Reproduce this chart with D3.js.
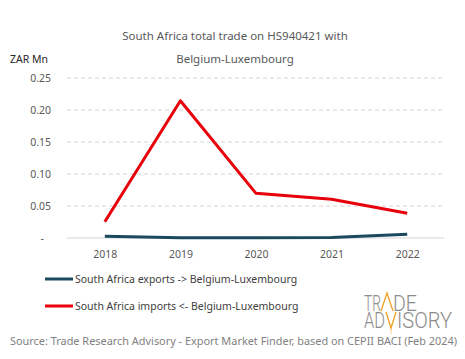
<!DOCTYPE html>
<html><head><meta charset="utf-8">
<script src="https://cdn.jsdelivr.net/npm/d3@7"></script>
<style>body{margin:0;background:#fff}svg{display:block}</style>
</head><body><div id="c"></div>
<script>
const years = ["2018","2019","2020","2021","2022"];
const exportsVals = [0.0027, 0.0002, 0.0002, 0.0008, 0.0058];
const importsVals = [0.0255, 0.2145, 0.0698, 0.0605, 0.0386];
const yTicks = [0, 0.05, 0.10, 0.15, 0.20, 0.25];
const seriesNames = ["South Africa exports -> Belgium-Luxembourg", "South Africa imports <- Belgium-Luxembourg"];
const seriesColors = ["#1b4a5e", "#e8000b"];

const W = 465, H = 359;
const svg = d3.select("#c").append("svg").attr("width", W).attr("height", H);
const font = "'Noto Sans', sans-serif";

const x = d3.scalePoint().domain(years).range([67, 445]).padding(0.5);
const y = d3.scaleLinear().domain([0, 0.25]).range([238, 78]);

// grid
svg.append("g").selectAll("line").data(yTicks.filter(d => d > 0)).join("line")
  .attr("x1", 67).attr("x2", 444).attr("y1", d => y(d)).attr("y2", d => y(d))
  .attr("stroke", "#d4d4d4").attr("stroke-dasharray", "4,3").attr("stroke-width", 1);
svg.append("line").attr("x1", 67).attr("x2", 444).attr("y1", y(0)).attr("y2", y(0))
  .attr("stroke", "#d4d4d4").attr("stroke-width", 1);

// y axis
const yAxis = d3.axisLeft(y).tickValues(yTicks).tickSize(0).tickPadding(0)
  .tickFormat(d => d === 0 ? "-" : d3.format(".2f")(d));
const gy = svg.append("g").attr("transform", "translate(51,0)").call(yAxis);
gy.select(".domain").remove();
gy.selectAll("text").attr("fill", "#595959").style("font-family", font).style("font-size", "10.5px");
gy.selectAll(".tick").filter(d => d === 0).select("text").attr("dx", "-7");

// x axis
const xAxis = d3.axisBottom(x).tickSize(0).tickPadding(0);
const gx = svg.append("g").attr("transform", "translate(0,251)").call(xAxis);
gx.select(".domain").remove();
gx.selectAll("text").attr("fill", "#595959").style("font-family", font).style("font-size", "10.5px");

// lines
const line = d3.line().x((d, i) => x(years[i])).y(d => y(d));
[exportsVals, importsVals].forEach((vals, k) => {
  svg.append("path").datum(vals).attr("d", line).attr("fill", "none")
    .attr("stroke", seriesColors[k]).attr("stroke-width", 3).attr("stroke-linejoin", "round");
});

// title
svg.append("text").attr("x", 235).attr("y", 40).attr("text-anchor", "middle")
  .style("font-family", font).style("font-size", "11.5px").attr("fill", "#595959")
  .text("South Africa total trade on HS940421 with");
svg.append("text").attr("x", 235).attr("y", 63).attr("text-anchor", "middle")
  .style("font-family", font).style("font-size", "11.5px").attr("fill", "#595959")
  .text("Belgium-Luxembourg");
svg.append("text").attr("x", 10).attr("y", 63)
  .style("font-family", font).style("font-size", "10.5px").attr("fill", "#262626")
  .text("ZAR Mn");

// legend
const legY = [279, 306];
seriesNames.forEach((n, k) => {
  svg.append("line").attr("x1", 45).attr("x2", 73).attr("y1", legY[k]).attr("y2", legY[k])
    .attr("stroke", seriesColors[k]).attr("stroke-width", 3);
  svg.append("text").attr("x", 75).attr("y", legY[k] + 3.5)
    .style("font-family", font).style("font-size", "10.5px").attr("fill", "#404040")
    .text(n);
});

// logo
const logo = svg.append("g");
const lf = (txt, x0, y0, len) => logo.append("text").attr("x", x0).attr("y", y0)
  .style("font-family", "'Roboto', sans-serif").style("font-weight", "300").style("font-size", "22px")
  .attr("fill", "#8c8c8c").attr("textLength", len).attr("lengthAdjust", "spacingAndGlyphs").text(txt);
lf("TR", 364, 311, 17);
lf("DE", 393, 311, 24);
lf("AD", 364, 328, 21);
lf("ISORY", 397, 328, 55);
logo.append("path").attr("d", "M381,311 L387,293 L393,311").attr("fill", "none")
  .attr("stroke", "#f0a020").attr("stroke-width", 1.3);
logo.append("path").attr("d", "M386,312 L391,328 L396,312").attr("fill", "none")
  .attr("stroke", "#f0a020").attr("stroke-width", 1.3);
logo.append("path").attr("d", "M391,328 L391,334").attr("fill", "none")
  .attr("stroke", "#f0a020").attr("stroke-width", 0.8).attr("opacity", 0.6);

// source
svg.append("text").attr("x", 10).attr("y", 345)
  .style("font-family", font).style("font-size", "10.5px").attr("fill", "#7f7f7f")
  .attr("textLength", 447).attr("lengthAdjust", "spacingAndGlyphs")
  .text("Source: Trade Research Advisory - Export Market Finder, based on CEPII BACI (Feb 2024)");
</script></body></html>
